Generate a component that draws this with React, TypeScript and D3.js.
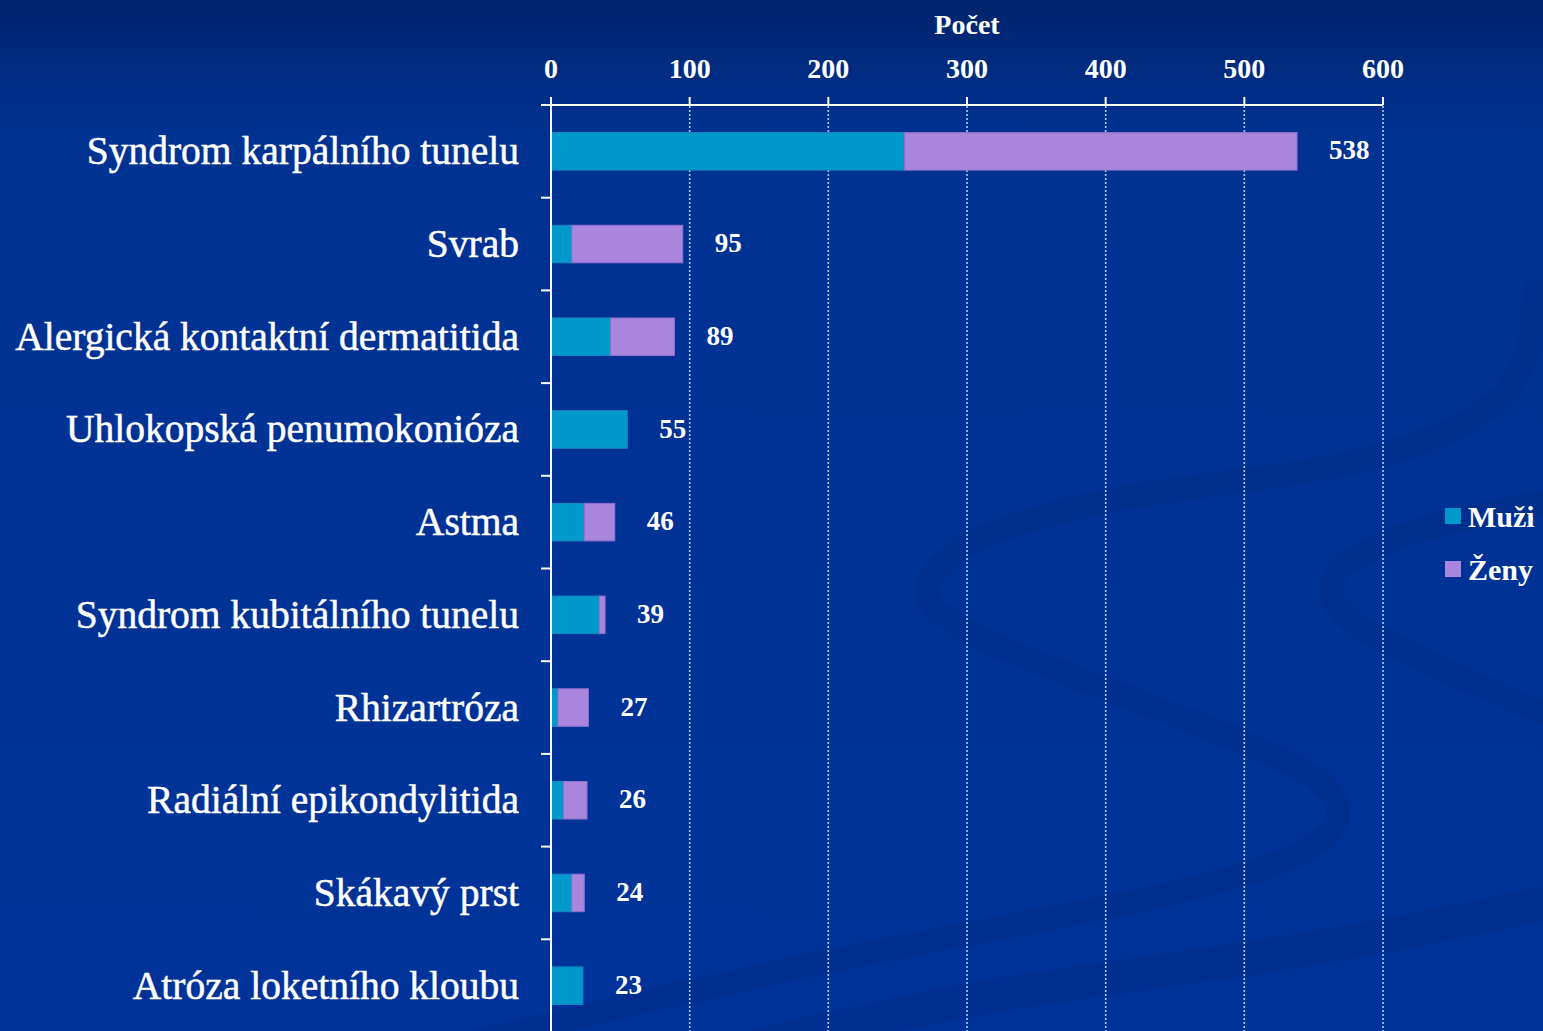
import React from 'react';
import * as d3 from 'd3';

const categories = [
  'Syndrom karpálního tunelu',
  'Svrab',
  'Alergická kontaktní dermatitida',
  'Uhlokopská penumokonióza',
  'Astma',
  'Syndrom kubitálního tunelu',
  'Rhizartróza',
  'Radiální epikondylitida',
  'Skákavý prst',
  'Atróza loketního kloubu',
];
const muzi = [255, 15, 43, 55, 24, 35, 5, 9, 15, 23];
const zeny = [283, 80, 46, 0, 22, 4, 22, 17, 9, 0];
const seriesNames = ['Muži', 'Ženy'];
const xTicks = [0, 100, 200, 300, 400, 500, 600];
const axisTitle = 'Počet';

const W = 1543;
const H = 1031;
const serif = '"Liberation Serif", "DejaVu Serif", serif';
const colors: Record<string, string> = { Muži: '#0099cc', Ženy: '#a985dd' };
const strokes: Record<string, string> = { Muži: '#1a86c0', Ženy: '#8f6fcf' };

// dekorativní "vlnky" na pozadí
const swooshes: [number, number][][] = [
  [[1535, 290], [1530, 380], [1460, 430], [1350, 470], [1105, 495], [960, 540], [915, 588], [945, 626], [1105, 690], [1300, 760], [1350, 805], [1325, 850], [1185, 895], [900, 945], [650, 1000], [480, 1040]],
  [[1560, 500], [1420, 525], [1345, 560], [1322, 590], [1350, 625], [1420, 660], [1560, 720]],
  [[760, 1045], [1000, 990], [1300, 955], [1560, 900]],
];

const App = () => {
  const x = d3.scaleLinear().domain([0, 600]).range([551, 1383]);
  const y = d3.scaleBand<string>().domain(categories).range([105, 1032]).padding(0);
  const barH = y.bandwidth() * 0.405;

  const rows = categories.map((c, i) => ({ cat: c, Muži: muzi[i], Ženy: zeny[i] }));
  const stack = d3.stack<any>().keys(seriesNames)(rows);
  const totals = categories.map((_, i) => muzi[i] + zeny[i]);

  const swLine = d3.line().curve(d3.curveBasis);
  const bottom = H;

  return (
    <div>
      <style>{'body{margin:0}'}</style>
      <svg width={W} height={H} style={{ display: 'block' }}>
        <defs>
          <linearGradient id="bg" x1="0" y1="0" x2="0" y2="1">
            <stop offset="0" stopColor="#00246c" />
            <stop offset="0.13" stopColor="#003292" />
            <stop offset="1" stopColor="#003399" />
          </linearGradient>
        </defs>
        <rect x={0} y={0} width={W} height={H} fill="url(#bg)" />

        {swooshes.map((pts, i) => (
          <path
            key={i}
            d={swLine(pts) || ''}
            fill="none"
            stroke="#00287c"
            strokeWidth={i === 2 ? 34 : 24}
            strokeLinecap="round"
            opacity={0.28}
          />
        ))}

        {/* mřížka */}
        {xTicks.slice(1).map((t) => (
          <line
            key={t}
            x1={x(t)}
            x2={x(t)}
            y1={106}
            y2={bottom}
            stroke="#a9cdf2"
            strokeWidth={1.6}
            strokeDasharray="2 2"
          />
        ))}

        {/* sloupce */}
        {stack.map((s) =>
          s.map((d, i) =>
            d[1] - d[0] > 0 ? (
              <rect
                key={s.key + i}
                x={x(d[0])}
                y={(y(categories[i]) as number) + (y.bandwidth() - barH) / 2}
                width={x(d[1]) - x(d[0])}
                height={barH}
                fill={colors[s.key]}
                stroke={strokes[s.key]}
                strokeWidth={1}
              />
            ) : null
          )
        )}

        {/* osy */}
        <line x1={541} x2={1383} y1={105} y2={105} stroke="#fff" strokeWidth={2} />
        <line x1={x(0)} x2={x(0)} y1={97} y2={bottom} stroke="#fff" strokeWidth={2} />
        {xTicks.map((t) => (
          <line key={t} x1={x(t)} x2={x(t)} y1={97} y2={105} stroke="#fff" strokeWidth={2} />
        ))}
        {categories.slice(1).map((c) => (
          <line key={c} x1={541} x2={551} y1={y(c) as number} y2={y(c) as number} stroke="#fff" strokeWidth={2} />
        ))}

        {xTicks.map((t) => (
          <text
            key={t}
            x={x(t)}
            y={78}
            textAnchor="middle"
            fill="#fff"
            fontFamily={serif}
            fontWeight="bold"
            fontSize={28}
          >
            {t}
          </text>
        ))}
        <text
          x={(x(0) + x(600)) / 2}
          y={34}
          textAnchor="middle"
          fill="#fff"
          fontFamily={serif}
          fontWeight="bold"
          fontSize={28}
        >
          {axisTitle}
        </text>

        {categories.map((c) => (
          <text
            key={c}
            x={519}
            y={(y(c) as number) + y.bandwidth() / 2}
            dy="0.33em"
            textAnchor="end"
            fill="#fff"
            stroke="#fff"
            strokeWidth={0.5}
            fontFamily={serif}
            fontSize={39.5}
          >
            {c}
          </text>
        ))}

        {/* popisky hodnot */}
        {categories.map((c, i) => (
          <text
            key={c}
            x={x(totals[i]) + 32}
            y={(y(c) as number) + y.bandwidth() / 2}
            dy="0.3em"
            fill="#fff"
            fontFamily={serif}
            fontWeight="bold"
            fontSize={27}
          >
            {totals[i]}
          </text>
        ))}

        {/* legenda */}
        {seriesNames.map((s, i) => (
          <g key={s} transform={`translate(1445, ${508 + i * 53})`}>
            <rect x={0} y={0} width={16} height={16} fill={colors[s]} />
            <text x={23} y={8} dy="0.35em" fill="#fff" fontFamily={serif} fontWeight="bold" fontSize={30}>
              {s}
            </text>
          </g>
        ))}
      </svg>
    </div>
  );
};

export default App;
